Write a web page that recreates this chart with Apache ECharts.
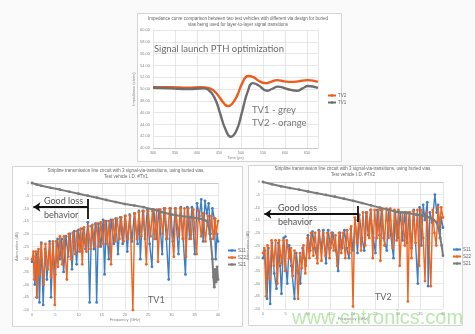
<!DOCTYPE html>
<html><head><meta charset="utf-8">
<script src="https://cdn.jsdelivr.net/npm/echarts@6/dist/echarts.min.js"></script>
<style>html,body{margin:0;padding:0;background:#fafafa}#c{width:475px;height:334px}</style>
</head><body><div id="c"></div><script>
// ---- Top chart: impedance vs time ----
const timeTicks = [300, 350, 400, 450, 500, 550, 600, 650];
const impTV2 = [[300,50.3],[340,50.3],[380,50.2],[410,50.3],[425,50.2],[440,49.6],[452,48.5],[462,47.5],[470,47.1],[480,47.5],[492,49.0],[503,51.0],[516,52.2],[528,52.0],[540,51.4],[555,51.0],[568,51.2],[582,51.5],[598,51.3],[615,51.2],[630,51.3],[652,51.5],[675,51.2]];
const impTV1 = [[300,50.2],[340,50.1],[380,50.0],[415,50.1],[425,49.9],[440,48.5],[452,46.0],[464,43.3],[477,41.9],[490,43.0],[502,46.0],[515,49.5],[527,51.0],[540,50.6],[559,49.7],[570,50.0],[584,50.4],[605,50.0],[627,49.7],[640,50.1],[652,50.5],[675,50.2]];

// ---- Bottom-left: TV1 S-parameters (GHz, dB) ----
const tv1S11 = [[0,-31],[0.3,-29],[0.6,-40],[0.9,-28],[1.0,-45],[1.3,-27],[1.6,-47],[2.0,-23.5],[2.4,-48],[2.8,-26],[3.2,-38],[3.8,-23],[4.1,-45],[4.5,-24],[5.0,-36],[5.5,-22],[6.0,-30],[6.4,-22],[6.8,-35],[7.3,-21],[7.8,-29],[8.2,-20],[8.6,-34],[9.1,-19],[9.6,-32],[10.0,-18.5],[10.6,-27],[11.0,-18],[11.5,-26],[12.0,-15.5],[12.4,-47],[12.8,-17],[13.3,-26],[13.6,-16],[13.9,-47],[14.3,-16],[14.8,-25],[15.3,-14.5],[15.6,-36],[16.0,-15],[16.5,-30],[17.0,-14.5],[17.6,-24],[18.0,-14],[18.5,-28],[19.0,-13.5],[19.5,-24],[20.0,-13],[20.5,-27],[21.0,-12.5],[21.5,-23],[22.0,-12],[22.7,-24],[23.0,-11],[23.3,-30],[23.8,-11],[24.3,-22],[24.8,-10.5],[25.3,-24],[25.8,-33],[26.2,-10.5],[26.8,-22],[27.3,-10.5],[28.0,-28],[28.4,-10],[28.9,-22],[29.4,-38],[29.8,-10],[30.3,-23],[30.8,-10],[31.5,-28],[32.0,-9.5],[32.5,-22],[33.0,-36],[33.4,-9.5],[33.9,-22],[34.4,-9.5],[35.0,-28],[35.5,-8],[36.0,-13],[36.4,-6.5],[36.8,-23],[37.2,-7],[37.6,-12],[38.0,-8],[38.4,-20],[38.8,-10],[39.2,-14],[39.5,-30],[39.8,-20],[40.0,-23]];
const tv1S22 = [[0,-30],[0.3,-27],[0.5,-38],[0.8,-27],[1.1,-45],[1.4,-26],[1.6,-36],[2.0,-24],[2.5,-40],[2.9,-24],[3.4,-34],[3.8,-24],[4.1,-37],[4.5,-23],[4.9,-48],[5.2,-23],[5.6,-33],[6.0,-21],[6.5,-32],[6.9,-21],[7.5,-38],[7.9,-20],[8.4,-30],[8.8,-19.5],[9.3,-28],[9.7,-19],[10.2,-27],[10.5,-18],[10.8,-32],[11.2,-17.5],[11.7,-27],[12.1,-17],[12.6,-26],[13.0,-16.5],[13.5,-25],[13.9,-16],[14.4,-25],[14.8,-15.5],[15.3,-24],[15.7,-15],[16.2,-24],[16.6,-15],[17.0,-32],[17.4,-14.5],[17.9,-23],[18.3,-14],[18.8,-22],[19.2,-13.5],[19.7,-23],[20.1,-13],[20.6,-22],[21.1,-13],[21.7,-50],[22.1,-12],[22.6,-22],[23.0,-11.5],[23.5,-21],[24.0,-11],[24.6,-32],[25.0,-11],[25.5,-21],[25.9,-11],[26.4,-22],[26.8,-10.5],[27.1,-31],[27.6,-10.5],[28.1,-20],[28.6,-10],[29.1,-22],[29.6,-10],[30.5,-29],[30.9,-10],[31.5,-21],[31.9,-10],[32.4,-22],[32.8,-10],[33.1,-29],[33.6,-10],[34.2,-22],[34.7,-10.5],[35.4,-28],[35.8,-11],[36.4,-21],[36.8,-12],[37.3,-23],[37.8,-13],[38.2,-20],[38.6,-13],[39.0,-22],[39.4,-14],[39.6,-20],[40.0,-15]];
const tv1S21 = [[0,0],[1,-0.6],[2,-1.1],[4,-1.9],[6,-2.6],[8,-3.4],[10,-4.2],[12,-5.0],[14,-5.8],[16,-6.7],[18,-7.5],[20,-8.3],[22,-8.9],[24,-9.5],[26,-10.4],[28,-11.5],[30,-12.4],[32,-13.0],[34,-13.5],[36,-14.0],[37,-14.5],[37.6,-15],[38.0,-17],[38.4,-22],[38.8,-30],[39.0,-37],[39.2,-41],[39.4,-34],[39.6,-39],[39.8,-33],[40,-38]];

// ---- Bottom-right: TV2 S-parameters (GHz, dB) ----
const tv2S11 = [[0,-30],[0.4,-27],[0.9,-46],[1.2,-26],[1.6,-48],[2.0,-24],[2.5,-36],[3.0,-42],[3.4,-24],[3.8,-33],[4.1,-44],[4.6,-22],[5.0,-21.5],[5.4,-40],[5.8,-25],[6.3,-33],[7.0,-46],[7.4,-28],[7.9,-36],[8.3,-40],[8.8,-26],[9.2,-30],[9.5,-33],[10.0,-21],[10.5,-27],[11.0,-19.5],[11.5,-26],[12.0,-30],[12.4,-19],[12.9,-26],[13.4,-19],[14.0,-32],[14.5,-19],[15.0,-26],[15.5,-20],[16.2,-27],[16.7,-35],[17.1,-20],[17.6,-26],[18.1,-19],[18.6,-26],[19.1,-30],[19.5,-18.5],[20.0,-27],[20.5,-15],[21.0,-28],[21.4,-13],[22.0,-22],[22.5,-27],[22.9,-12],[23.4,-21],[23.9,-11],[24.5,-22],[25.0,-28],[25.4,-11],[25.9,-21],[26.3,-11],[26.8,-22],[27.5,-27],[27.9,-11],[28.4,-21],[29.0,-30],[29.4,-12],[30.0,-22],[30.5,-12],[31.0,-23],[31.5,-12],[32.0,-24],[32.5,-12],[33.0,-26],[33.5,-11],[34.4,-40],[34.8,-10],[35.2,-25],[35.6,-9],[36.0,-15],[36.5,-8],[36.7,-41],[37.1,-12],[37.6,-16],[38.2,-5],[38.6,-12],[38.9,-9],[39.3,-22],[39.6,-14],[40.0,-18]];
const tv2S22 = [[0,-28],[0.3,-26],[0.7,-45],[1.0,-25],[1.5,-38],[1.9,-23],[2.4,-33],[2.8,-23],[3.2,-40],[3.6,-23],[4.1,-32],[4.5,-23],[4.9,-35],[5.3,-23],[5.8,-30],[6.2,-26],[6.6,-37],[7.0,-27],[7.5,-35],[7.8,-46],[8.2,-28],[8.6,-34],[9.0,-25],[9.4,-36],[9.9,-22],[10.3,-30],[10.7,-20],[11.2,-29],[11.6,-20],[12.1,-32],[12.5,-19.5],[13.0,-31],[13.4,-20],[13.9,-29],[14.3,-20],[14.8,-30],[15.2,-20],[15.7,-27],[16.1,-21],[16.5,-33],[16.9,-20],[17.4,-28],[17.8,-20],[18.3,-30],[18.7,-19],[19.2,-28],[19.6,-17.5],[20.0,-49],[20.4,-14],[20.9,-24],[21.3,-13],[21.8,-27],[22.2,-12],[22.7,-25],[23.1,-12],[23.6,-22],[24.0,-11],[24.4,-30],[24.8,-11],[25.3,-22],[25.7,-11],[26.1,-31],[26.5,-11],[27.0,-25],[27.4,-10.5],[27.9,-22],[28.3,-10.5],[28.8,-26],[29.2,-11],[29.7,-23],[30.1,-11],[30.4,-33],[31.0,-12],[31.5,-25],[31.9,-12],[32.2,-47],[32.6,-12],[33.0,-30],[33.4,-11.5],[33.9,-24],[34.3,-11],[34.7,-33],[35.1,-11],[35.6,-22],[36.0,-39],[36.4,-12],[36.9,-24],[37.3,-41],[37.7,-11],[38.1,-20],[38.5,-25],[38.9,-10],[39.3,-18],[39.6,-10],[40.0,-14]];
const tv2S21 = [[0,0],[2,-0.9],[4,-1.7],[6,-2.4],[8,-3.0],[10,-3.7],[12,-4.4],[14,-5.1],[16,-5.8],[18,-6.6],[20,-7.4],[22,-8.3],[24,-9.2],[26,-10.1],[28,-11.0],[30,-11.8],[32,-12.2],[34,-12.8],[36,-13.5],[37,-14],[38,-15],[38.6,-16],[39,-18],[39.4,-22],[39.7,-25],[40,-29]];

const freqTicks = [0, 5, 10, 15, 20, 25, 30, 35, 40];
const dBTicks = [0, -5, -10, -15, -20, -25, -30, -35, -40, -45, -50];

const C_BLUE = '#3f7fc1', C_ORANGE = '#f0641e', C_GREY = '#7b7b7b', C_ORANGE_TOP = '#f05a1a', C_GREY_TOP = '#6e6e6e';
const axisTxt = {fontSize: 4, color: '#888', fontFamily: 'Liberation Sans'};
const split = {show: true, lineStyle: {color: '#dcdcdc', width: 0.7}};
const FONT = 'Lato, "Liberation Sans", sans-serif';

function xFreq(gi){
  return {gridIndex: gi, type: 'value', min: 0, max: 40, interval: 5,
    axisLabel: Object.assign({margin: 3}, axisTxt), axisTick: {show: false},
    axisLine: {lineStyle: {color: '#bbb', width: 0.7}}, splitLine: split,
    name: 'Frequency (GHz)', nameLocation: 'middle', nameGap: 8, nameTextStyle: axisTxt};
}
function yDB(gi){
  return {gridIndex: gi, type: 'value', min: -50, max: 0, interval: 5,
    axisLabel: Object.assign({margin: 3}, axisTxt), axisTick: {show: false},
    axisLine: {show: false}, splitLine: split,
    name: 'Attenuation (dB)', nameLocation: 'middle', nameGap: 9, nameTextStyle: axisTxt};
}
function sSeries(name, data, gi, color, z, lw){
  return {name, type: 'line', xAxisIndex: gi, yAxisIndex: gi, data, z,
    symbol: 'circle', symbolSize: 2.8, showAllSymbol: true,
    lineStyle: {color, width: lw}, itemStyle: {color, borderWidth: 0}};
}
function arrowLine(y, xEnd, yTop, yBot){
  return {silent: true, symbol: ['none', 'none'], symbolSize: 6, label: {show: false},
    lineStyle: {color: '#111', width: 1.8, type: 'solid'},
    emphasis: {disabled: true},
    data: [
      [{coord: [0.3, y], symbol: 'arrow', symbolSize: 7, symbolRotate: 90}, {coord: [xEnd, y], symbol: 'none'}],
      [{coord: [xEnd, yTop], symbol: 'none'}, {coord: [xEnd, yBot], symbol: 'none'}]
    ]};
}

const chart = echarts.init(document.getElementById('c'));
const s21L = sSeries('S21', tv1S21, 1, C_GREY, 5, 2);
s21L.markLine = arrowLine(-9.45, 12, -6.3, -14.2);
const s21R = sSeries('S21', tv2S21, 2, C_GREY, 5, 2);
s21R.markLine = arrowLine(-12.6, 21.1, -9.4, -15.7);

function txt(text, x, y, size, color, extra){
  return Object.assign({type: 'text', z: 100, silent: true, style: {text, x, y, fill: color,
    font: size + 'px ' + FONT, textAlign: 'left', textVerticalAlign: 'middle', align: 'left', verticalAlign: 'middle'}}, extra || {});
}
function ctxt(text, x, y){
  return {type: 'text', z: 100, silent: true, style: {text, x, y, fill: '#666', font: '4.5px "Liberation Sans", sans-serif',
    textAlign: 'center', align: 'center', textVerticalAlign: 'middle', verticalAlign: 'middle'}};
}

chart.setOption({
  animation: false,
  backgroundColor: '#fafafa',
  graphic: {elements: [
    {type: 'rect', z: -10, silent: true, shape: {x: 137.5, y: 13.5, width: 204, height: 148}, style: {fill: '#fff', stroke: '#d4d4d4', lineWidth: 1}},
    {type: 'rect', z: -10, silent: true, shape: {x: 12.5, y: 166.5, width: 230, height: 160}, style: {fill: '#fff', stroke: '#d4d4d4', lineWidth: 1}},
    {type: 'rect', z: -10, silent: true, shape: {x: 248.5, y: 165.5, width: 214, height: 160}, style: {fill: '#fff', stroke: '#d4d4d4', lineWidth: 1}},
    ctxt('Impedance curve comparison between two test vehicles with different via design for buried', 238, 19),
    ctxt('vias being used for layer-to-layer signal transitions', 238, 25),
    ctxt('Stripline transmission line circuit with 3 signal-via-transitions, using buried vias,', 126, 171),
    ctxt('Test vehicle I.D. #TV1', 126, 177),
    ctxt('Stripline transmission line circuit with 3 signal-via-transitions, using buried vias,', 353, 169),
    ctxt('Test vehicle I.D. #TV2', 353, 175),
    txt('Signal launch PTH optimization', 154, 49, 9.5, '#6a6a6a'),
    txt('TV1 - grey', 252, 110, 9.5, '#777'),
    txt('TV2 - orange', 252, 123, 9.5, '#777'),
    txt('Good loss', 44, 201, 9, '#555'),
    txt('behavior', 44, 215, 9, '#555'),
    txt('TV1', 148, 300, 9, '#666'),
    txt('Good loss', 278, 208, 9, '#555'),
    txt('behavior', 278, 222, 9, '#555'),
    txt('TV2', 375, 297, 9, '#666'),
    {type: 'text', z: 120, silent: true, style: {text: 'www.cntronics.com', x: 292, y: 318, fill: 'rgba(140,215,120,0.6)',
      font: '20px "Liberation Sans", Arial, sans-serif', textAlign: 'left', align: 'left', textVerticalAlign: 'middle', verticalAlign: 'middle'}}
  ]},
  legend: [
    {data: ['TV2', 'TV1'], orient: 'vertical', left: 322, top: 88, itemWidth: 8, itemHeight: 3, itemGap: 2,
      textStyle: {fontSize: 4.5, color: '#666', padding: [0,0,0,-3]}, selectedMode: false},
    {data: ['S11', 'S22', 'S21'], orient: 'vertical', left: 222, top: 243, itemWidth: 8, itemHeight: 3, itemGap: 2,
      textStyle: {fontSize: 4.5, color: '#666', padding: [0,0,0,-3]}, selectedMode: false},
    {data: ['S11', 'S22', 'S21'], orient: 'vertical', left: 447, top: 242, itemWidth: 8, itemHeight: 3, itemGap: 2,
      textStyle: {fontSize: 4.5, color: '#666', padding: [0,0,0,-3]}, selectedMode: false}
  ],
  grid: [
    {left: 153, top: 30, width: 165, height: 118},
    {left: 32, top: 183, width: 186, height: 127},
    {left: 263, top: 182, width: 180, height: 127}
  ],
  xAxis: [
    {gridIndex: 0, type: 'value', min: 300, max: 675, interval: 50,
      axisLabel: Object.assign({margin: 3, showMaxLabel: false}, axisTxt), axisTick: {show: false},
      axisLine: {lineStyle: {color: '#bbb', width: 0.7}}, splitLine: split,
      name: 'Time (ps)', nameLocation: 'middle', nameGap: 8, nameTextStyle: axisTxt},
    xFreq(1), xFreq(2)
  ],
  yAxis: [
    {gridIndex: 0, type: 'value', min: 40, max: 60, interval: 2,
      axisLabel: Object.assign({margin: 3, formatter: v => v.toFixed(2)}, axisTxt), axisTick: {show: false},
      axisLine: {show: false}, splitLine: split,
      name: 'Impedance (ohms)', nameLocation: 'middle', nameGap: 12, nameTextStyle: axisTxt},
    yDB(1), yDB(2)
  ],
  series: [
    {name: 'TV2', type: 'line', xAxisIndex: 0, yAxisIndex: 0, data: impTV2, smooth: 0.5, symbol: 'none',
      lineStyle: {color: C_ORANGE_TOP, width: 2.4}, itemStyle: {color: C_ORANGE_TOP}},
    {name: 'TV1', type: 'line', xAxisIndex: 0, yAxisIndex: 0, data: impTV1, smooth: 0.5, symbol: 'none',
      lineStyle: {color: C_GREY_TOP, width: 2.4}, itemStyle: {color: C_GREY_TOP}},
    sSeries('S11', tv1S11, 1, C_BLUE, 3, 1.4),
    sSeries('S22', tv1S22, 1, C_ORANGE, 4, 1.4),
    s21L,
    sSeries('S11', tv2S11, 2, C_BLUE, 3, 1.4),
    sSeries('S22', tv2S22, 2, C_ORANGE, 4, 1.4),
    s21R
  ]
});
</script></body></html>
